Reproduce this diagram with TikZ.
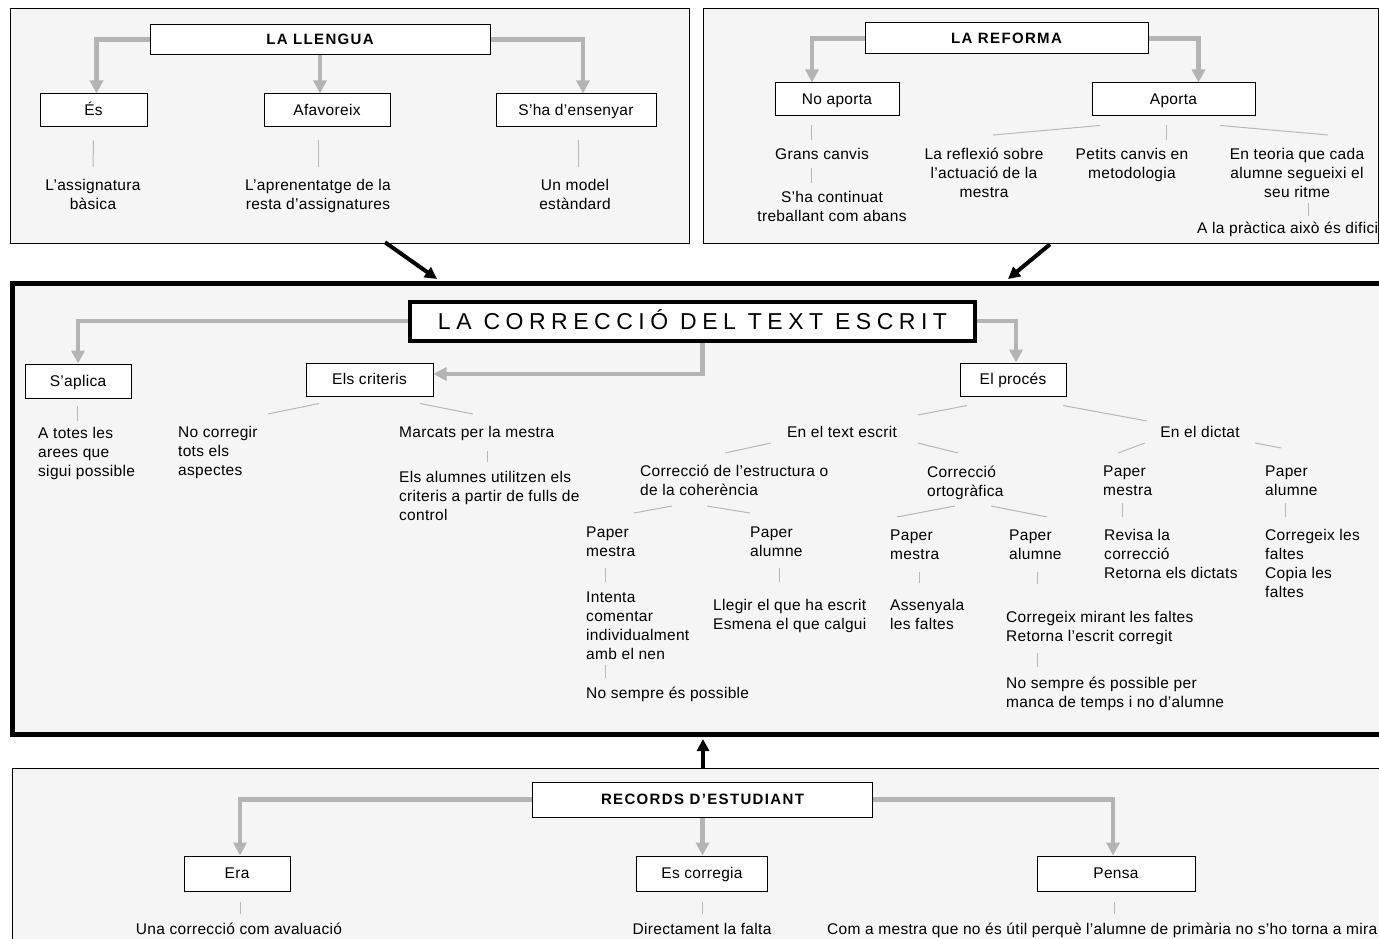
\documentclass[tikz,border=0pt]{standalone}
\usepackage{fontspec}
\setmainfont{Liberation Sans}[LetterSpace=2]
\usetikzlibrary{arrows.meta,calc}
\definecolor{panelfill}{HTML}{F5F5F5}
\definecolor{agray}{HTML}{B4B4B4}
\definecolor{lgray}{HTML}{B8B8B8}
\newcommand\bodyf{\fontsize{15.5}{19}\selectfont}
\newcommand\ttlf{\fontsize{23}{27}\selectfont\addfontfeature{LetterSpace=24}}
\tikzset{
 panel/.style={draw=black, fill=panelfill, line width=1.3pt, anchor=north west, inner sep=0pt},
 bx/.style={draw=black, fill=white, line width=1pt, inner sep=0pt, font=\bodyf, text height=13pt, text depth=2.5pt, minimum height=33pt},
 hbox/.style={bx, font=\fontsize{15}{19}\selectfont\bfseries\addfontfeature{LetterSpace=9}},
 ttlbox/.style={draw=black, fill=white, line width=4pt, inner sep=0pt, font=\ttlf, minimum width=565pt, minimum height=39pt, text height=17pt, text depth=0pt},
 garrow/.style={draw=agray, line width=4.5pt, -{Triangle[width=13pt,length=13pt]}},
 barrow/.style={draw=black, line width=4pt, -{Triangle[width=12pt,length=12pt]}},
 tl/.style={draw=lgray, line width=1pt},
 tx/.style={inner sep=0pt, font=\bodyf, anchor=north, align=center},
 txl/.style={inner sep=0pt, font=\bodyf, anchor=north west, align=left},
}
\begin{document}
\begin{tikzpicture}[x=1pt,y=-1pt]
\fill[white] (0,0) rectangle (1379,939);
\useasboundingbox (0,0) rectangle (1379,939);
% panels
\node[panel, minimum width=679pt, minimum height=235pt] (pTL) at (10,8) {};
\node[panel, minimum width=675pt, minimum height=235pt] (pTR) at (703,8) {};
\node[panel, line width=5pt, minimum width=1420pt, minimum height=451pt] (pM) at (10,281) {};
\node[panel, minimum width=1420pt, minimum height=200pt] (pB) at (12,768) {};
% black arrows between panels
\coordinate (a1s) at ($(pTL.south west)+(375,-2)$);
\coordinate (a1e) at ($(pM.north west)+(427,-2)$);
\coordinate (a2s) at ($(pTR.south west)+(347,0)$);
\coordinate (a2e) at ($(pM.north west)+(998,-2)$);
\coordinate (a3s) at ($(pB.north west)+(691,0)$);
\coordinate (a3e) at ($(pM.south west)+(693,2)$);
\draw[barrow] (a1s) -- (a1e);
\draw[barrow] (a2s) -- (a2e);
\draw[barrow] (a3s) -- (a3e);

% ---------- LA LLENGUA ----------
\node[hbox, minimum width=340pt, minimum height=30pt] (llengua) at (320,39.5) {LA LLENGUA};
\node[bx, minimum width=107pt] (es) at (93.5,110.5) {És};
\node[bx, minimum width=126pt] (afav) at (327,110.5) {Afavoreix};
\node[bx, minimum width=160pt] (shae) at (576,110.5) {S’ha d’ensenyar};
\draw[garrow] (llengua.west) -| ([xshift=3pt]es.north);
\draw[garrow] (llengua.south) -- (llengua.south |- afav.north);
\draw[garrow] (llengua.east) -| ([xshift=7pt]shae.north);
\node[tx] (tes) at (93,177) {\strut L’assignatura\\bàsica};
\node[tx] (taf) at (318,177) {\strut L’aprenentatge de la\\resta d’assignatures};
\node[tx] (tsh) at (575,177) {\strut Un model\\estàndard};
\draw[tl] ($(es.south)+(0,13)$) -- ($(tes.north)+(0,-10)$);
\draw[tl] ($(taf.north |- afav.south)+(0,13)$) -- ($(taf.north)+(0,-10)$);
\draw[tl] ($(tsh.north |- shae.south)+(3,13)$) -- ($(tsh.north)+(3,-10)$);

% ---------- LA REFORMA ----------
\node[hbox, minimum width=283pt, minimum height=31pt] (reforma) at (1006.5,38.5) {LA REFORMA};
\node[bx, minimum width=124pt] (noap) at (837,99.5) {No aporta};
\node[bx, minimum width=163pt] (aporta) at (1173.5,99.5) {Aporta};
\draw[garrow] (reforma.west) -| ([xshift=-25pt]noap.north);
\draw[garrow] (reforma.east) -| ([xshift=25pt]aporta.north);
\node[tx] (tgc) at (822,146) {\strut Grans canvis};
\node[tx] (tsc) at (832,189) {\strut S’ha continuat\\treballant com abans};
\node[tx] (tre) at (984,146) {\strut La reflexió sobre\\l’actuació de la\\mestra};
\node[tx] (tpc) at (1132,146) {\strut Petits canvis en\\metodologia};
\node[tx] (tet) at (1297,146) {\strut En teoria que cada\\alumne segueixi el\\seu ritme};
\node[txl] (tap) at (1197,220) {\strut A la pràctica això és difici};
\draw[tl] ($(noap.south)+(-26,9)$) -- ($(tgc.north)+(-11,-6)$);
\draw[tl] ($(tgc.north)+(-11,22)$) -- ($(tsc.north)+(-21,-6)$);
\draw[tl] ($(aporta.south)+(-73.5,9)$) -- ($(tre.north)+(9,-11)$);
\draw[tl] ($(aporta.south)+(-7.5,9)$) -- ($(tpc.north)+(34,-6)$);
\draw[tl] ($(aporta.south)+(46.5,9)$) -- ($(tet.north)+(31,-11)$);
\draw[tl] ($(tet.north)+(11,57)$) -- ($(tap.north west)+(111,-4)$);

% ---------- LA CORRECCIÓ ----------
\node[ttlbox] (ttl) at (692.5,321) {LA CORRECCIÓ DEL TEXT ESCRIT};
\node[bx, minimum width=106pt, minimum height=34pt] (sapl) at (78,381) {S’aplica};
\node[bx, minimum width=127pt] (crit) at (369.5,379.5) {Els criteris};
\node[bx, minimum width=106pt] (proc) at (1013,379.5) {El procés};
\draw[garrow] (ttl.west) -| (sapl.north);
\draw[garrow] ([xshift=10pt]ttl.south) |- ([yshift=5.5pt]crit.east);
\draw[garrow] (ttl.east) -| ([xshift=3pt]proc.north);

\node[txl] (tsa) at (38,425) {\strut A totes les\\arees que\\sigui possible};
\node[txl] (tnc) at (178,424) {\strut No corregir\\tots els\\aspectes};
\node[txl] (tmm) at (399,424) {\strut Marcats per la mestra};
\node[txl] (tea) at (399,469) {\strut Els alumnes utilitzen els\\criteris a partir de fulls de\\control};
\draw[tl] ($(sapl.south)+(-1,7)$) -- ($(tsa.north west)+(39,-4)$);
\draw[tl] ($(crit.south)+(-50.5,7)$) -- ($(tnc.north west)+(90,-10)$);
\draw[tl] ($(crit.south)+(50.5,7)$) -- ($(tmm.north west)+(74,-10)$);
\draw[tl] ($(tmm.north west)+(88,27)$) -- ($(tea.north west)+(88,-7)$);

\node[tx] (ttx) at (842,424) {\strut En el text escrit};
\node[tx] (tdi) at (1200,424) {\strut En el dictat};
\draw[tl] ($(proc.south)+(-46,9)$) -- ($(ttx.north)+(76,-9)$);
\draw[tl] ($(proc.south)+(50,9)$) -- ($(tdi.north)+(-53,-3)$);

\node[txl] (tce) at (640,463) {\strut Correcció de l’estructura o\\de la coherència};
\node[txl] (tco) at (927,464) {\strut Correcció\\ortogràfica};
\draw[tl] ($(ttx.north)+(-71,19)$) -- ($(tce.north west)+(85,-10)$);
\draw[tl] ($(ttx.north)+(76,19)$) -- ($(tco.north west)+(31,-11)$);

\node[txl] (tdm) at (1103,463) {\strut Paper\\mestra};
\node[txl] (tda) at (1265,463) {\strut Paper\\alumne};
\draw[tl] ($(tdi.north)+(-55,19)$) -- ($(tdm.north west)+(15,-10)$);
\draw[tl] ($(tdi.north)+(55,19)$) -- ($(tda.north west)+(16,-15)$);
\node[txl] (trv) at (1104,527) {\strut Revisa la\\correcció\\Retorna els dictats};
\node[txl] (tcf) at (1265,527) {\strut Corregeix les\\faltes\\Copia les\\faltes};
\draw[tl] ($(tdm.north west)+(19,40)$) -- ($(trv.north west)+(18,-10)$);
\draw[tl] ($(tda.north west)+(20,40)$) -- ($(tcf.north west)+(20,-10)$);

\node[txl] (tpm1) at (586,524) {\strut Paper\\mestra};
\node[txl] (tpa1) at (750,524) {\strut Paper\\alumne};
\draw[tl] ($(tce.north west)+(32,43)$) -- ($(tpm1.north west)+(48,-11)$);
\draw[tl] ($(tce.north west)+(67,43)$) -- ($(tpa1.north west)+(0,-11)$);
\node[txl] (tin) at (586,589) {\strut Intenta\\comentar\\individualment\\amb el nen};
\node[txl] (tns) at (586,685) {\strut No sempre és possible};
\node[txl] (tll) at (713,597) {\strut Llegir el que ha escrit\\Esmena el que calgui};
\draw[tl] ($(tpm1.north west)+(19,44)$) -- ($(tin.north west)+(19,-7)$);
\draw[tl] ($(tin.north west)+(19,76)$) -- ($(tns.north west)+(19,-7)$);
\draw[tl] ($(tpa1.north west)+(29,44)$) -- ($(tll.north west)+(66,-15)$);

\node[txl] (tpm2) at (890,527) {\strut Paper\\mestra};
\node[txl] (tpa2) at (1009,527) {\strut Paper\\alumne};
\draw[tl] ($(tco.north west)+(28,42)$) -- ($(tpm2.north west)+(7,-10)$);
\draw[tl] ($(tco.north west)+(64,42)$) -- ($(tpa2.north west)+(38,-10)$);
\node[txl] (tas) at (890,597) {\strut Assenyala\\les faltes};
\node[txl] (tcm) at (1006,609) {\strut Corregeix mirant les faltes\\Retorna l’escrit corregit};
\node[txl] (tnp) at (1006,675) {\strut No sempre és possible per\\manca de temps i no d’alumne};
\draw[tl] ($(tpm2.north west)+(29,45)$) -- ($(tas.north west)+(29,-14)$);
\draw[tl] ($(tpa2.north west)+(28,45)$) -- ($(tcm.north west)+(31,-25)$);
\draw[tl] ($(tcm.north west)+(31,44)$) -- ($(tnp.north west)+(31,-8)$);

% ---------- RECORDS D'ESTUDIANT ----------
\node[hbox, minimum width=340pt, minimum height=35pt] (rec) at (702.5,799.5) {RECORDS D’ESTUDIANT};
\node[bx, minimum width=106pt, minimum height=35pt] (era) at (237,873.5) {Era};
\node[bx, minimum width=131pt, minimum height=35pt] (esc) at (702,873.5) {Es corregia};
\node[bx, minimum width=158pt, minimum height=35pt] (pen) at (1116,873.5) {Pensa};
\draw[garrow] (rec.west) -| ([xshift=3pt]era.north);
\draw[garrow] (rec.south) -- (rec.south |- esc.north);
\draw[garrow] (rec.east) -| ([xshift=-3pt]pen.north);
\node[tx] (tua) at (239,921) {\strut Una correcció com avaluació};
\node[tx] (tdf) at (702,921) {\strut Directament la falta};
\node[txl] (tcm2) at (827,921) {\strut Com a mestra que no és útil perquè l’alumne de primària no s’ho torna a mira};
\draw[tl] ($(era.south)+(3,10)$) -- ($(tua.north)+(1,-7)$);
\draw[tl] ($(esc.south)+(0,10)$) -- ($(tdf.north)+(0,-7)$);
\draw[tl] ($(pen.south)+(-2,10)$) -- ($(tcm2.north west)+(287,-7)$);
\end{tikzpicture}
\end{document}
